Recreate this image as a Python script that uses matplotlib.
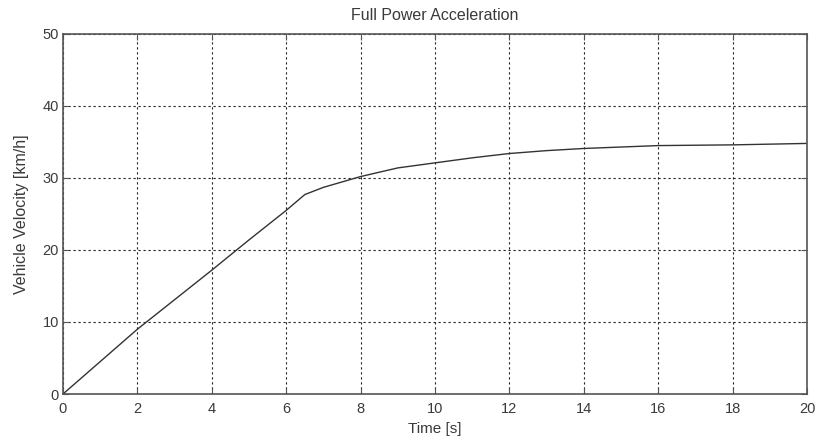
import matplotlib
matplotlib.use("Agg")
import matplotlib.pyplot as plt

# values
time_s = [0, 1, 2, 3, 4, 5, 6, 6.5, 7, 8, 9, 10, 11, 12, 13, 14, 15, 16, 17, 18, 19, 20]
velocity_kmh = [0, 4.5, 9.0, 13.1, 17.2, 21.4, 25.5, 27.7, 28.7, 30.2, 31.4, 32.1,
                32.8, 33.4, 33.8, 34.1, 34.3, 34.5, 34.55, 34.6, 34.7, 34.8]

xticks = list(range(0, 21, 2))
yticks = [0, 10, 20, 30, 40, 50]

plt.rcParams['font.family'] = ['Liberation Sans', 'DejaVu Sans']
textcol = '#3a3a3a'

fig = plt.figure(figsize=(8.16, 4.43), dpi=100)
ax = fig.add_axes([0.0772, 0.1106, 0.9118, 0.8127])

ax.plot(time_s, velocity_kmh, color='#333333', linewidth=1.0)

ax.set_xlim(0, 20)
ax.set_ylim(0, 50)
ax.set_xticks(xticks)
ax.set_yticks(yticks)
ax.grid(True, linestyle=(0, (2, 2.5)), color='#222222', linewidth=0.8)

for s in ax.spines.values():
    s.set_color('#555555')
    s.set_linewidth(1.2)

ax.tick_params(direction='in', length=4, colors='#555555', labelcolor=textcol,
               labelsize=10.5, top=True, right=True)
ax.tick_params(axis='x', pad=6)
ax.tick_params(axis='y', pad=3)

ax.set_title('Full Power Acceleration', fontsize=11.5, color=textcol, pad=10)
ax.set_xlabel('Time [s]', fontsize=11, color=textcol, labelpad=4)
ax.set_ylabel('Vehicle Velocity [km/h]', fontsize=11.5, color=textcol, labelpad=10)

fig.savefig('out.png', dpi=100)
